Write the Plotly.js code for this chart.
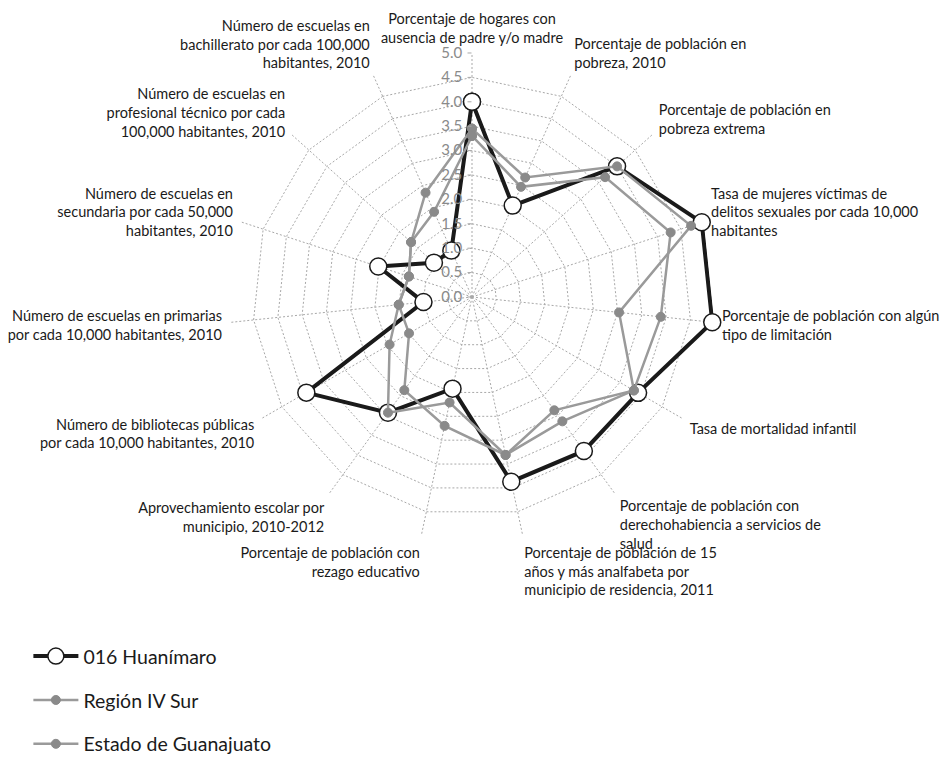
<!DOCTYPE html>
<html>
<head>
<meta charset="utf-8">
<script src="https://cdn.plot.ly/plotly-3.0.1.min.js"></script>
<style>html,body{margin:0;padding:0;background:#fff}#chart{width:946px;height:758px}</style>
</head>
<body>
<div id="chart"></div>
<script>
const categories = [
  "Porcentaje de hogares con<br>ausencia de padre y/o madre",
  "Porcentaje de población en<br>pobreza, 2010",
  "Porcentaje de población en<br>pobreza extrema",
  "Tasa de mujeres víctimas de<br>delitos sexuales por cada 10,000<br>habitantes",
  "Porcentaje de población con algún<br>tipo de limitación",
  "Tasa de mortalidad infantil",
  "Porcentaje de población con<br>derechohabiencia a servicios de<br>salud",
  "Porcentaje de población de 15<br>años y más analfabeta por<br>municipio de residencia, 2011",
  "Porcentaje de población con<br>rezago educativo",
  "Aprovechamiento escolar por<br>municipio, 2010-2012",
  "Número de bibliotecas públicas<br>por cada 10,000 habitantes, 2010",
  "Número de escuelas en primarias<br>por cada 10,000 habitantes, 2010",
  "Número de escuelas en<br>secundaria por cada 50,000<br>habitantes, 2010",
  "Número de escuelas en<br>profesional técnico por cada<br>100,000 habitantes, 2010",
  "Número de escuelas en<br>bachillerato por cada 100,000<br>habitantes, 2010"
];
const huanimaro = [4.0, 2.05, 4.0, 4.95, 4.95, 3.93, 3.9, 3.87, 1.92, 2.93, 3.92, 1.0, 2.02, 1.05, 1.04];
const regionIVSur = [3.45, 2.68, 4.0, 4.72, 3.03, 3.83, 2.87, 3.31, 2.21, 2.93, 1.95, 1.51, 1.36, 1.68, 2.34];
const guanajuato = [3.3, 2.47, 3.67, 4.28, 3.89, 3.83, 3.15, 3.31, 2.7, 2.36, 1.49, 1.51, 1.36, 1.68, 1.91];
const seriesNames = ["016 Huanímaro", "Región IV Sur", "Estado de Guanajuato"];
const radialTicks = [0, 0.5, 1, 1.5, 2, 2.5, 3, 3.5, 4, 4.5, 5];

function closed(a){ return a.concat([a[0]]); }

const traces = [
  {
    type: 'scatterpolar', name: seriesNames[0], legendgroup: 'a',
    r: closed(huanimaro), theta: closed(categories), mode: 'lines+markers',
    line: {color: '#1a1a1a', width: 4},
    marker: {symbol: 'circle', size: 17, color: '#ffffff', line: {color: '#1a1a1a', width: 1.5}}
  },
  {
    type: 'scatterpolar', name: seriesNames[1], legendgroup: 'b',
    r: closed(regionIVSur), theta: closed(categories), mode: 'lines+markers',
    line: {color: '#9a9a9a', width: 2.5},
    marker: {symbol: 'circle', size: 9, color: '#8a8a8a', line: {color: '#8a8a8a', width: 1}}
  },
  {
    type: 'scatterpolar', name: seriesNames[2], legendgroup: 'c',
    r: closed(guanajuato), theta: closed(categories), mode: 'lines+markers',
    line: {color: '#9a9a9a', width: 2.5},
    marker: {symbol: 'circle', size: 9, color: '#8a8a8a', line: {color: '#8a8a8a', width: 1}}
  }
];

const layout = {
  width: 946, height: 758,
  margin: {l: 0, r: 0, t: 0, b: 0, autoexpand: false},
  paper_bgcolor: '#ffffff',
  font: {family: 'Lato, "Open Sans", sans-serif', color: '#1a1a1a', size: 14.5},
  showlegend: true,
  legend: {
    x: 0.03, y: 0.1597, xanchor: 'left', yanchor: 'top',
    font: {size: 19.5, color: '#1a1a1a'},
    tracegroupgap: 15.5, itemwidth: 45
  },
  polar: {
    domain: {x: [0.2410, 0.7569], y: [0.2863, 0.9301]},
    gridshape: 'linear',
    bgcolor: 'rgba(0,0,0,0)',
    radialaxis: {
      range: [0, 5], tickvals: radialTicks, tickformat: '.1f',
      angle: 90, side: 'counterclockwise', tickangle: 90,
      showline: false, gridcolor: '#a8a8a8', griddash: '2px,2px', gridwidth: 1,
      ticks: 'outside', ticklen: 4, tickcolor: '#a8a8a8',
      tickfont: {size: 15, color: '#8a8a8a'}
    },
    angularaxis: {
      type: 'category', direction: 'clockwise', rotation: 90,
      showline: false, gridcolor: '#a8a8a8', griddash: '2px,2px', gridwidth: 1,
      ticks: 'outside', ticklen: 4, tickcolor: 'rgba(0,0,0,0)',
      tickfont: {size: 14.5, color: '#1a1a1a'}
    }
  }
};

Plotly.newPlot('chart', traces, layout, {displayModeBar: false, staticPlot: true});
</script>
</body>
</html>
